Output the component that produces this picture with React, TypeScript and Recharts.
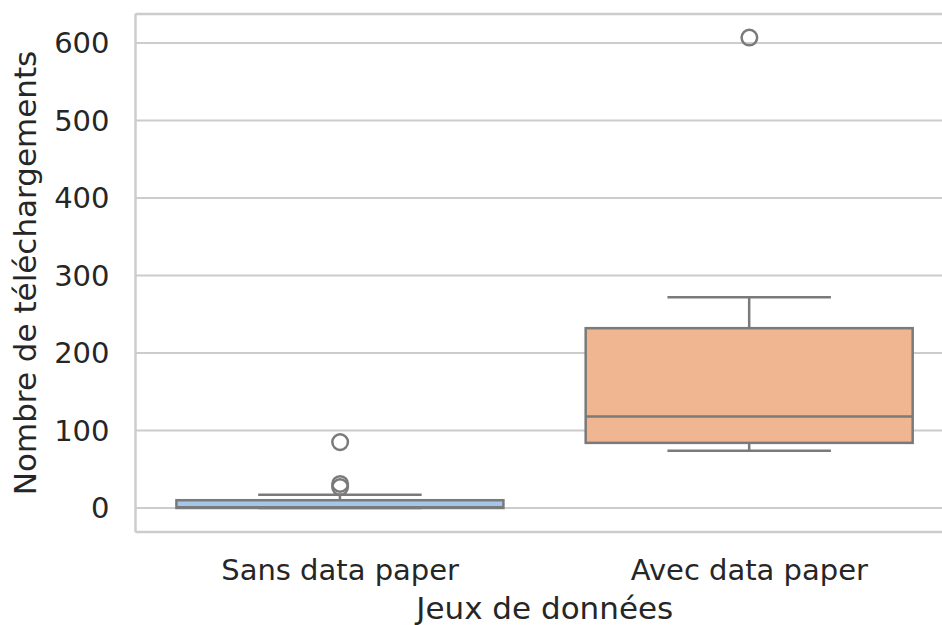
import React from "react";
import {
  ComposedChart,
  Bar,
  Scatter,
  XAxis,
  YAxis,
  CartesianGrid,
  ReferenceLine,
} from "recharts";

// boxplot stats
const categories = ["Sans data paper", "Avec data paper"];
const whiskerLow = [0, 74];
const q1 = [0, 84];
const median = [1, 118];
const q3 = [10, 232];
const whiskerHigh = [17, 272];
const boxColors = ["#a4c5ec", "#f0b692"];

const outlierNames = ["Sans data paper", "Sans data paper", "Sans data paper", "Avec data paper"];
const outlierValues = [85, 31, 27, 607];

const yTicks = [0, 100, 200, 300, 400, 500, 600];

const LINE = "#7a7a7a";
const GRID = "#cccccc";
const TEXT = "#262626";
const FONT = "DejaVu Sans, sans-serif";

const data = categories.map((name, i) => ({
  name,
  range: [whiskerLow[i], whiskerHigh[i]],
  low: whiskerLow[i],
  q1: q1[i],
  median: median[i],
  q3: q3[i],
  high: whiskerHigh[i],
  color: boxColors[i],
}));

const outliers = outlierNames.map((name, i) => ({ name, value: outlierValues[i] }));

const BoxShape = (props: any) => {
  const { x, y, width, height, payload } = props;
  const top = Math.min(y, y + height);
  const h = Math.abs(height);
  const span = payload.high - payload.low;
  const py = (v: number) => (span === 0 ? top : top + (h * (payload.high - v)) / span);
  const cx = x + width / 2;
  const cap = width / 4;
  return (
    <g>
      <line x1={cx} x2={cx} y1={py(payload.high)} y2={py(payload.q3)} stroke={LINE} strokeWidth={2.5} />
      <line x1={cx} x2={cx} y1={py(payload.q1)} y2={py(payload.low)} stroke={LINE} strokeWidth={2.5} />
      <line x1={cx - cap} x2={cx + cap} y1={py(payload.high)} y2={py(payload.high)} stroke={LINE} strokeWidth={2.5} />
      <line x1={cx - cap} x2={cx + cap} y1={py(payload.low)} y2={py(payload.low)} stroke={LINE} strokeWidth={2.5} />
      <rect
        x={x}
        y={py(payload.q3)}
        width={width}
        height={py(payload.q1) - py(payload.q3)}
        fill={payload.color}
        stroke={LINE}
        strokeWidth={2.5}
      />
      <line x1={x} x2={x + width} y1={py(payload.median)} y2={py(payload.median)} stroke={LINE} strokeWidth={2.5} />
    </g>
  );
};

const OutlierShape = (props: any) => {
  const { cx, cy } = props;
  return <circle cx={cx} cy={cy} r={7.8} fill="none" stroke={LINE} strokeWidth={2.5} />;
};

const App: React.FC = () => {
  return (
    <div style={{ position: "absolute", top: 8, left: 8, width: 934, height: 617, overflow: "hidden" }}>
      <ComposedChart
        width={950}
        height={617}
        data={data}
        margin={{ top: 6, right: 4, left: 0, bottom: 0 }}
        barCategoryGap="10%"
        style={{ fontFamily: FONT }}
      >
        <CartesianGrid vertical={false} stroke={GRID} strokeWidth={2} />
        <ReferenceLine y={637.4} stroke={GRID} strokeWidth={2.5} />
        <XAxis
          dataKey="name"
          type="category"
          allowDuplicatedCategory={false}
          height={93}
          tickLine={false}
          tickSize={0}
          tickMargin={27}
          axisLine={{ stroke: GRID, strokeWidth: 2.5 }}
          tick={{ fill: TEXT, fontSize: 29, fontFamily: FONT }}
          label={{
            value: "Jeux de données",
            position: "insideBottom",
            offset: 6,
            fill: TEXT,
            fontSize: 31,
            fontFamily: FONT,
          }}
        />
        <YAxis
          type="number"
          domain={[-31, 637.4]}
          ticks={yTicks}
          width={127.5}
          tickLine={false}
          tickSize={0}
          tickMargin={26}
          axisLine={{ stroke: GRID, strokeWidth: 2.5 }}
          tick={{ fill: TEXT, fontSize: 29, fontFamily: FONT }}
          label={{
            value: "Nombre de téléchargements",
            angle: -90,
            position: "insideLeft",
            offset: 17,
            fill: TEXT,
            fontSize: 31,
            fontFamily: FONT,
            style: { textAnchor: "middle" },
          }}
        />
        <Bar dataKey="range" shape={<BoxShape />} isAnimationActive={false} />
        <Scatter data={outliers} dataKey="value" shape={<OutlierShape />} isAnimationActive={false} />
      </ComposedChart>
    </div>
  );
};

export default App;
